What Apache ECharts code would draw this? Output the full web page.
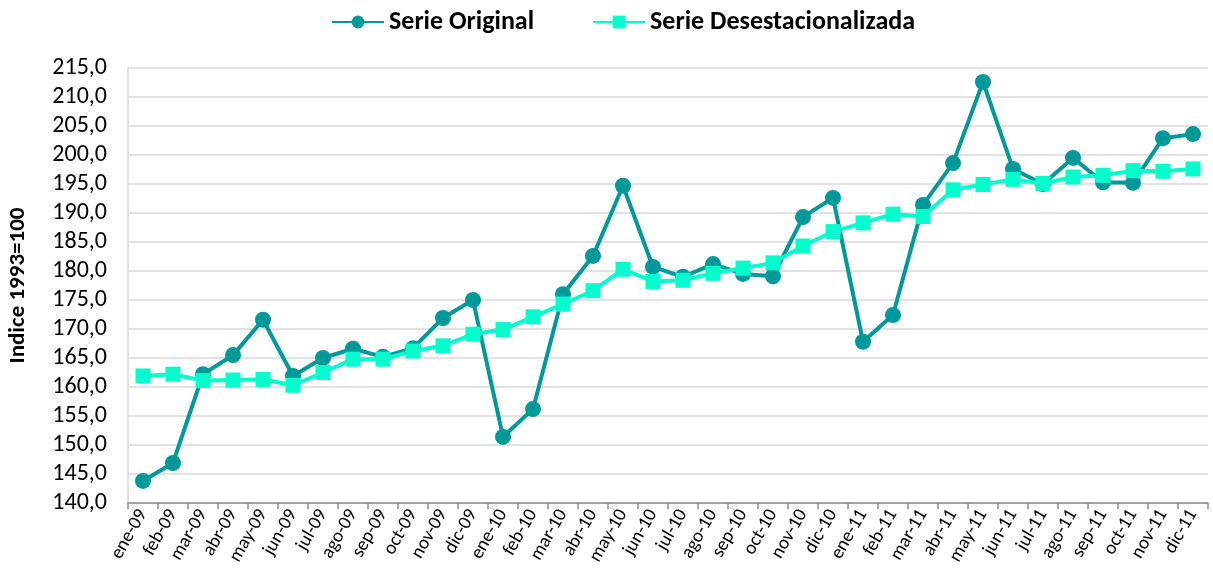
<!DOCTYPE html>
<html>
<head>
<meta charset="utf-8">
<script src="https://cdn.jsdelivr.net/npm/echarts@6/dist/echarts.min.js"></script>
<style>
html, body { margin: 0; padding: 0; background: #fff; }
#box1 { width: 1213px; height: 578px; }
</style>
</head>
<body>
<div id="box1"></div>
<script>
/* serie original y desestacionalizada */
var meses = ['ene-09','feb-09','mar-09','abr-09','may-09','jun-09','jul-09','ago-09','sep-09','oct-09','nov-09','dic-09',
             'ene-10','feb-10','mar-10','abr-10','may-10','jun-10','jul-10','ago-10','sep-10','oct-10','nov-10','dic-10',
             'ene-11','feb-11','mar-11','abr-11','may-11','jun-11','jul-11','ago-11','sep-11','oct-11','nov-11','dic-11'];

var serieOriginal = [143.8, 146.9, 162.2, 165.5, 171.6, 161.9, 165.0, 166.6, 165.2, 166.7, 171.9, 175.0,
                     151.4, 156.2, 176.0, 182.6, 194.7, 180.7, 179.0, 181.2, 179.5, 179.1, 189.3, 192.6,
                     167.8, 172.4, 191.4, 198.6, 212.6, 197.6, 195.0, 199.5, 195.3, 195.2, 202.9, 203.6];

var serieDesest = [161.9, 162.2, 161.1, 161.2, 161.3, 160.3, 162.5, 164.8, 164.8, 166.2, 167.1, 169.1,
                   169.9, 172.1, 174.3, 176.6, 180.3, 178.2, 178.4, 179.6, 180.5, 181.4, 184.3, 186.8,
                   188.3, 189.8, 189.4, 194.0, 194.9, 195.8, 195.1, 196.2, 196.5, 197.3, 197.2, 197.6];

var dom = document.getElementById("box1");
var myChart = echarts.init(dom);

var fuente = 'Carlito, "Liberation Sans Narrow", "Open Sans", sans-serif';

option = {
    animation: false,
    textStyle: { fontFamily: fuente },
    legend: {
        top: 4,
        left: 326,
        itemGap: 58,
        itemWidth: 52,
        itemHeight: 16,
        textStyle: { fontSize: 26, fontWeight: 'bold', color: '#000', fontFamily: fuente },
        data: ['Serie Original', 'Serie Desestacionalizada']
    },
    grid: { left: 128, right: 5, top: 68, bottom: 75, containLabel: false, outerBoundsMode: 'none' },
    xAxis: {
        type: 'category',
        data: meses,
        boundaryGap: true,
        axisLine: { lineStyle: { color: '#8c8c8c', width: 1.5 } },
        axisTick: { show: true, length: 6, interval: 0, lineStyle: { color: '#8c8c8c', width: 1.5 } },
        axisLabel: { interval: 0, rotate: 60, fontSize: 19, color: '#000', margin: 8, fontFamily: fuente }
    },
    yAxis: {
        type: 'value',
        min: 140,
        max: 215,
        interval: 5,
        name: 'Indice 1993=100',
        nameLocation: 'middle',
        nameGap: 98,
        nameTextStyle: { fontSize: 23, fontWeight: 'bold', color: '#000', fontFamily: fuente },
        axisLine: { show: true, lineStyle: { color: '#d9d9d9', width: 1.5 } },
        axisTick: { show: false },
        splitLine: { lineStyle: { color: '#d9d9d9', width: 1.5 } },
        axisLabel: {
            fontSize: 24, color: '#000', margin: 21, fontFamily: fuente,
            formatter: function (v) { return v.toFixed(1).replace('.', ','); }
        }
    },
    series: [
        {
            name: 'Serie Original',
            type: 'line',
            data: serieOriginal,
            symbol: 'circle',
            symbolSize: 16,
            itemStyle: { color: '#009999' },
            lineStyle: { color: '#009999', width: 4 },
            z: 2
        },
        {
            name: 'Serie Desestacionalizada',
            type: 'line',
            data: serieDesest,
            symbol: 'rect',
            symbolSize: 15,
            itemStyle: { color: '#00FFCC' },
            lineStyle: { color: '#00FFCC', width: 4 },
            z: 3
        }
    ]
};

if (option && typeof option === "object") {
    myChart.setOption(option, true);
}
</script>
</body>
</html>
